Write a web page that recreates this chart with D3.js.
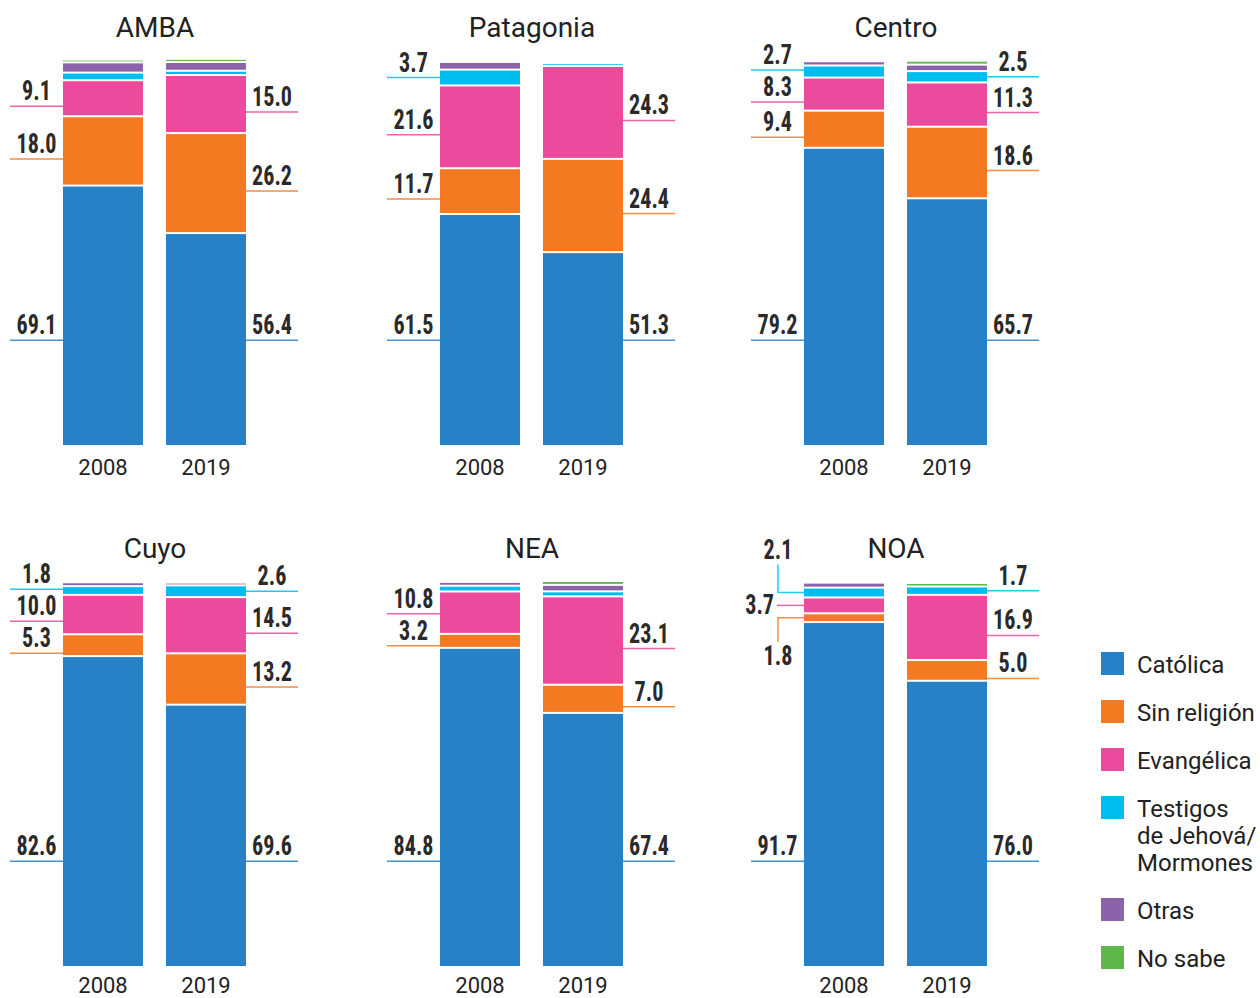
<!DOCTYPE html>
<html>
<head>
<meta charset="utf-8">
<script src="https://cdn.jsdelivr.net/npm/d3@7"></script>
<style>
  body { margin: 0; background: #fff; }
  svg { display: block; }
</style>
</head>
<body>
<svg id="chart"></svg>
<script>
// data
const regions = ["AMBA", "Patagonia", "Centro", "Cuyo", "NEA", "NOA"];
const years = ["2008", "2019"];
const categories = ["Católica", "Sin religión", "Evangélica", "Testigos de Jehová/Mormones", "Otras", "No sabe"];
const legendLines = [["Católica"], ["Sin religión"], ["Evangélica"], ["Testigos", "de Jehová/", "Mormones"], ["Otras"], ["No sabe"]];
const colors = ["#2781c6", "#f47920", "#ec4a9c", "#00bdf0", "#8c62aa", "#5db947"];

// [2008, 2019] per region
const catolica    = [[69.1, 56.4], [61.5, 51.3], [79.2, 65.7], [82.6, 69.6], [84.8, 67.4], [91.7, 76.0]];
const sinReligion = [[18.0, 26.2], [11.7, 24.4], [9.4, 18.6], [5.3, 13.2], [3.2, 7.0], [1.8, 5.0]];
const evangelica  = [[9.1, 15.0], [21.6, 24.3], [8.3, 11.3], [10.0, 14.5], [10.8, 23.1], [3.7, 16.9]];
const testigos    = [[1.5, 0.6], [3.7, 0.2], [2.7, 2.5], [1.8, 2.6], [1.0, 0.8], [2.1, 1.7]];
const otras       = [[2.2, 1.8], [1.5, 0], [0.6, 1.2], [0.5, 0.2], [0.5, 1.2], [0.8, 0]];
const noSabe      = [[0.2, 0.3], [0, 0], [0, 0.5], [0, 0], [0, 0.5], [0, 0.4]];

// which Testigos values carry a label
const testigosLabeled = [[false, false], [true, false], [true, true], [true, true], [false, false], [true, true]];
// special label placement (NOA 2008 is crowded)
const specialStyles = { "NOA-2008": ["above", "elbowDown", "side", "elbowUp"] };

const series = [catolica, sinReligion, evangelica, testigos, otras, noSabe];

const W = 1260, H = 998;
const svg = d3.select("#chart").attr("width", W).attr("height", H);

const numFont = "'Roboto Condensed', 'Liberation Sans Narrow', 'DejaVu Sans Condensed', sans-serif";
const txtFont = "Roboto, 'Noto Sans', sans-serif";

// panel layout
const colX = [63, 440, 804];
const rowBase = [445, 966];
const yearOffset = [30, 27];
const gap = 2;
const barH = 374;
const minSpacing = 32;

const x = d3.scaleBand().domain(years).range([0, 183]).paddingInner(23 / 103).paddingOuter(0);

function numLabel(g, tx, ty, anchor, txt) {
  g.append("text")
    .attr("transform", `translate(${tx},${ty}) scale(0.82,1)`)
    .attr("text-anchor", anchor)
    .style("font-family", numFont).style("font-size", "27px").style("font-weight", "bold")
    .style("fill", "#2a2a2a")
    .text(txt);
}

regions.forEach((region, r) => {
  const col = r % 3, row = Math.floor(r / 3);
  const base = rowBase[row];
  const y = d3.scaleLinear().domain([0, 100]).range([base, base - barH]);
  const g = svg.append("g").attr("transform", `translate(${colX[col]},0)`);

  // title
  g.append("text")
    .attr("x", 92).attr("y", base - 408)
    .attr("text-anchor", "middle")
    .style("font-family", txtFont).style("font-size", "28px").style("fill", "#222")
    .text(region);

  years.forEach((yr, yi) => {
    const bx = x(yr), bw = x.bandwidth();
    const side = yi === 0 ? "left" : "right";
    const styles = specialStyles[region + "-" + yr] || [];
    let cum = 0, gaps = 0;
    const segs = [];
    series.forEach((s, ci) => {
      const v = s[r][yi];
      if (v <= 0) return;
      const y0 = y(cum) - gaps * gap;
      const y1 = y(cum + v) - gaps * gap;
      segs.push({ ci, v, y0, y1 });
      cum += v; gaps += 1;
    });

    g.selectAll(null).data(segs).enter().append("rect")
      .attr("x", bx).attr("width", bw)
      .attr("y", d => d.y1).attr("height", d => Math.max(0.6, d.y0 - d.y1))
      .style("fill", d => colors[d.ci]);

    // labels
    let prevLine = Infinity;
    segs.forEach(d => {
      if (d.ci > 3) return;
      if (d.ci === 3 && !testigosLabeled[r][yi]) return;
      const c = colors[d.ci];
      const txt = d.v.toFixed(1);
      const mid = (d.y0 + d.y1) / 2;
      let yl;
      if (d.ci === 0) yl = y(28);
      else if (d.ci === 3) yl = mid;
      else yl = Math.min(mid + 8, d.y0 - 1);
      const style = styles[d.ci] || "above";
      const edge = side === "left" ? bx : bx + bw;
      if (style === "above") {
        yl = Math.min(yl, prevLine - minSpacing);
        prevLine = yl;
        const x1 = side === "left" ? edge - 53 : edge + 52;
        g.append("line").attr("x1", x1).attr("x2", edge).attr("y1", yl).attr("y2", yl)
          .style("stroke", c).style("stroke-width", 1.5).style("opacity", 0.85);
        numLabel(g, (x1 + edge) / 2, yl - 6, "middle", txt);
      } else if (style === "side") {
        g.append("line").attr("x1", edge - 27).attr("x2", edge).attr("y1", mid).attr("y2", mid)
          .style("stroke", c).style("stroke-width", 1.5).style("opacity", 0.85);
        numLabel(g, edge - 30, mid + 9, "end", txt);
      } else {
        const ex = edge - 26;
        const ey = style === "elbowUp" ? mid - 28 : mid + 24;
        g.append("path").attr("d", `M${edge},${mid}H${ex}V${ey}`)
          .style("fill", "none").style("stroke", c).style("stroke-width", 1.5).style("opacity", 0.85);
        numLabel(g, ex, style === "elbowUp" ? ey - 6 : ey + 23, "middle", txt);
      }
    });

    // year
    g.append("text")
      .attr("x", bx + bw / 2).attr("y", base + yearOffset[row])
      .attr("text-anchor", "middle")
      .style("font-family", txtFont).style("font-size", "22px").style("fill", "#222")
      .text(yr);
  });
});

// legend
const legend = svg.append("g").attr("transform", "translate(1101,0)");
let ly = 664;
legendLines.forEach((lines, i) => {
  legend.append("rect").attr("x", 0).attr("y", ly - 12).attr("width", 23).attr("height", 23)
    .style("fill", colors[i]);
  const t = legend.append("text")
    .style("font-family", txtFont).style("font-size", "24px").style("fill", "#222");
  lines.forEach((ln, k) => {
    t.append("tspan").attr("x", 36).attr("y", ly + 9 + k * 27).text(ln);
  });
  ly += 48 + (lines.length - 1) * 27;
});
</script>
</body>
</html>
